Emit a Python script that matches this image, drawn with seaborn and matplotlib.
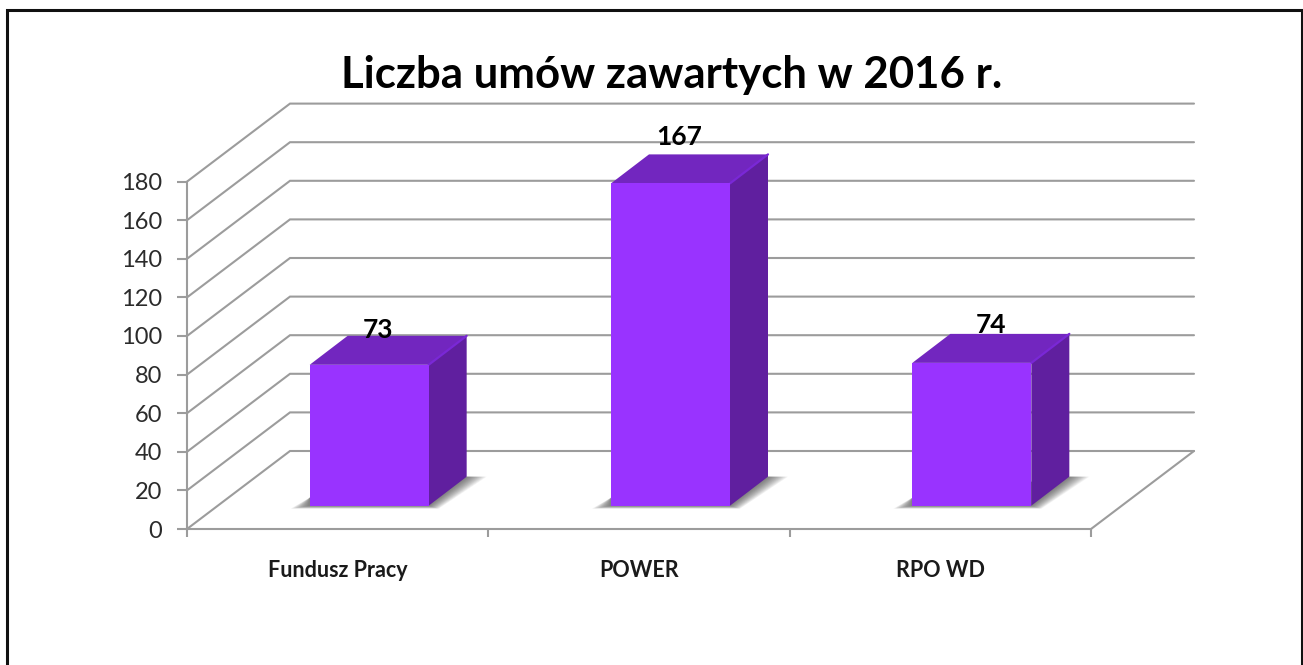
import numpy as np
import pandas as pd
import seaborn as sns
import matplotlib.pyplot as plt
from matplotlib.lines import Line2D
from matplotlib.transforms import IdentityTransform

# dane
kategorie = ['Fundusz Pracy', 'POWER', 'RPO WD']
umowy = [73, 167, 74]
podzialka = [0, 20, 40, 60, 80, 100, 120, 140, 160, 180]
tytul = 'Liczba umów zawartych w 2016 r.'

sns.set_theme(style='white')
plt.rcParams['font.family'] = ['Lato', 'DejaVu Sans']

W, H = 1303, 665
fig = plt.figure(figsize=(W / 100, H / 100), dpi=100, facecolor='white')

# przednia plaszczyzna wykresu w pikselach
x0, x1, y0, y180 = 187, 1091, 529, 181.6
ax = fig.add_axes([x0 / W, (H - y0) / H, (x1 - x0) / W, (y0 - y180) / H])
ax.set_facecolor('none')

# przeliczenie pikseli na jednostki osi
px_x = 3 / (x1 - x0)
px_y = 180 / (y0 - y180)

szary = '#9c9c9c'
sciana_x, sciana_y = 103 * px_x, 78 * px_y
glebia_x, glebia_y = 38 * px_x, 29 * px_y
baza = 23.3 * px_y
przesuniecie = 31.5 * px_x
szerokosc = 119 * px_x

df = pd.DataFrame({'kategoria': kategorie, 'umowy': umowy})
sns.barplot(data=df, x='kategoria', y='umowy', color='#9933ff', saturation=1,
            width=szerokosc, ax=ax, zorder=5)

ax.set_xlim(-0.5, 2.5)
ax.set_ylim(0, 180)

# siatka na scianach
for t in podzialka:
    ax.plot([-0.5, -0.5 + sciana_x, 2.5 + sciana_x], [t, t + sciana_y, t + sciana_y],
            color=szary, lw=1.5, clip_on=False, zorder=1, solid_joinstyle='miter')
ax.plot([2.5, 2.5 + sciana_x], [0, sciana_y], color=szary, lw=1.5, clip_on=False, zorder=1)

for p, v in zip(ax.patches, umowy):
    p.set_x(p.get_x() + przesuniecie)
    p.set_y(baza)
    p.set_linewidth(0)
    l, r = p.get_x(), p.get_x() + p.get_width()
    g = baza + v

    # cien na podlodze
    for s in np.linspace(1, 0.08, 14):
        ax.fill([l - 19 * s * px_x, r + 10 * s * px_x, r + glebia_x + 20 * s * px_x, r + glebia_x, l],
                [baza - 3 * s * px_y, baza - 3 * s * px_y, baza + glebia_y, baza + glebia_y, baza + 8 * px_y],
                color='#303030', alpha=0.06, lw=0, clip_on=False, zorder=2)

    # gorna i boczna sciana slupka
    ax.fill([l, r, r + glebia_x, l + glebia_x], [g, g, g + glebia_y, g + glebia_y],
            color='#7226bf', lw=0, clip_on=False, zorder=4)
    ax.fill([r, r + glebia_x, r + glebia_x, r], [baza, baza + glebia_y, g + glebia_y, g],
            color='#601f9f', lw=0, clip_on=False, zorder=4)
    ax.plot([r, r + glebia_x], [g, g + glebia_y], color='#7a28d6', lw=1.6, clip_on=False, zorder=4.5)

# etykiety wartosci
etykieta_dx = [9, 9, 19]
etykieta_dy = [-2, 9, 1]
for p, v, dx, dy in zip(ax.patches, umowy, etykieta_dx, etykieta_dy):
    sx = p.get_x() + p.get_width() / 2 + dx * px_x
    ax.text(sx, baza + v + glebia_y + dy * px_y, str(v), ha='center', va='baseline',
            fontsize=19, color='black', fontweight='bold', zorder=6)

sns.despine(ax=ax, top=True, right=True)
for b in ['left', 'bottom']:
    ax.spines[b].set_color(szary)
    ax.spines[b].set_linewidth(1.5)

ax.set_xlabel('')
ax.set_ylabel('')
ax.set_yticks(podzialka)
ax.tick_params(axis='y', length=7, width=1.5, color=szary, labelsize=17, labelcolor='#2b2b2b', pad=11,
               left=True)
ax.set_xticks(range(len(kategorie)))
ax.set_xticklabels(kategorie, fontsize=15.5, fontweight='bold', color='#1a1a1a')
ax.tick_params(axis='x', length=0, pad=22)
ax.set_xticks([-0.5, 0.5, 1.5, 2.5], minor=True)
ax.tick_params(axis='x', which='minor', length=6, width=1.5, color=szary, bottom=True)

fig.text(672 / W, (H - 88) / H, tytul, ha='center', va='baseline', fontsize=31.5,
         fontweight='bold', color='black')

# ramka bez dolnej krawedzi
fig.add_artist(Line2D([7, 7, 1302, 1302], [0, H - 9.5, H - 9.5, 0], color='#111111', lw=2.2,
                      transform=IdentityTransform(), solid_joinstyle='miter'))

fig.savefig('out.png', dpi=100)
